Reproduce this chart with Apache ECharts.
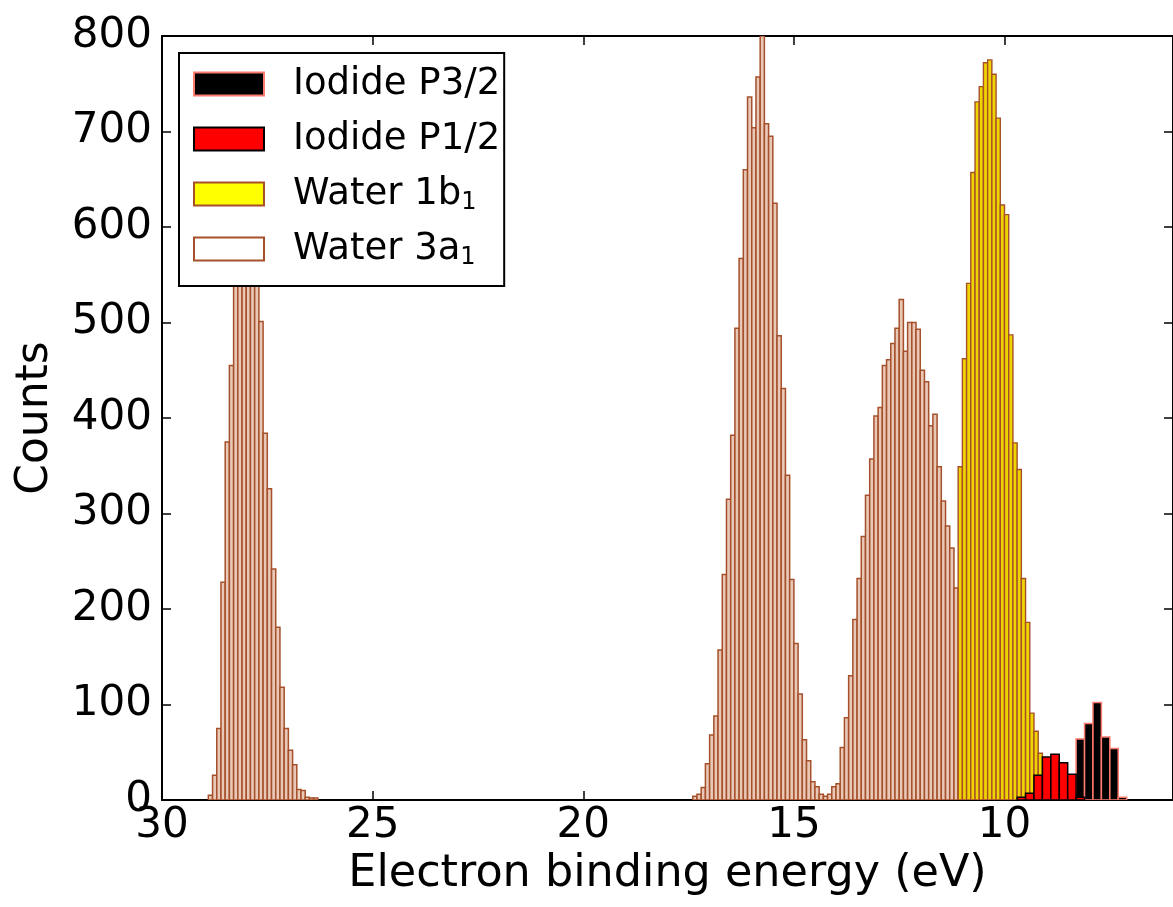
<!DOCTYPE html>
<html>
<head>
<meta charset="utf-8">
<script src="https://cdn.jsdelivr.net/npm/echarts@6/dist/echarts.min.js"></script>
<style>
html,body{margin:0;padding:0;background:#fff;}
#chart{width:1173px;height:907px;}
</style>
</head>
<body>
<div id="chart"></div>
<script>
// ---------------- DATA ----------------
// Histogram bins: each list starts at a high-energy bin edge (eV) and runs to lower energy.
const xTickValues = [10, 15, 20, 25, 30];
const yTickInterval = 100;

// Water 3a1 (brown outline), bin width 0.1 eV
const water3a1_A_start = 28.9;
const water3a1_A = [5, 26, 75, 228, 375, 455, 555, 605, 635, 630, 600, 560, 501, 384, 326, 242, 181, 118, 75, 52, 37, 11, 10, 3, 2, 2];
const water3a1_B_start = 17.4;
const water3a1_B = [4, 6, 13, 38, 68, 88, 157, 236, 315, 382, 494, 567, 660, 736, 704, 757, 800, 708, 695, 625,
  486, 431, 340, 231, 164, 111, 63, 41, 19, 14, 6, 4, 6, 14, 17, 55, 86, 130, 189, 232,
  276, 319, 357, 402, 411, 455, 461, 478, 494, 524, 470, 500, 500, 493, 450, 438, 392, 404, 349, 313,
  287, 264, 222, 132, 46, 15, 5];
const water3a1_width = 0.1;

// Water 1b1 (yellow), bin width 0.1 eV
const water1b1_start = 11.1;
const water1b1 = [349, 462, 541, 657, 731, 747, 772, 775, 760, 714, 623, 613, 487, 374, 346, 232, 186, 91, 72, 49];
const water1b1_width = 0.1;

// Iodide P1/2 (red), bin width 0.2 eV
const iodideP12_start = 9.7;
const iodideP12 = [3, 7, 26, 45, 48, 39, 27, 3];
const iodideP12_width = 0.2;

// Iodide P3/2 (black), bin width 0.2 eV
const iodideP32_start = 8.3;
const iodideP32 = [64, 80, 102, 66, 54, 3];
const iodideP32_width = 0.2;

const seriesNames = ['Iodide P3/2', 'Iodide P1/2', 'Water 1b1', 'Water 3a1'];

// ---------------- BUILD ----------------
function bins(start, counts, width) {
  return counts.map((c, i) => [start - width * (i + 0.5), c, width]);
}
const FONT = 'DejaVu Sans';

function makeRender(fill, stroke, lw) {
  return function (params, api) {
    const c = api.value(0), v = api.value(1), w = api.value(2);
    const pA = api.coord([c + w / 2, v]);
    const pB = api.coord([c - w / 2, 0]);
    const x = Math.min(pA[0], pB[0]);
    const width = Math.abs(pB[0] - pA[0]);
    return {
      type: 'rect',
      shape: { x: x, y: pA[1], width: width, height: pB[1] - pA[1] },
      style: { fill: fill, stroke: stroke, lineWidth: lw }
    };
  };
}

const brown = '#a5502a';
const w3a1Data = bins(water3a1_A_start, water3a1_A, water3a1_width)
  .concat(bins(water3a1_B_start, water3a1_B, water3a1_width));

const chart = echarts.init(document.getElementById('chart'), null, { renderer: 'canvas' });

const axisLineStyle = { color: '#000', width: 2 };
const tickStyle = { color: '#000', width: 1.5 };

const option = {
  animation: false,
  backgroundColor: '#fff',
  grid: { left: 162, right: -5, top: 36, bottom: 107, containLabel: false },
  xAxis: [
    {
      type: 'value', min: 6, max: 30, inverse: true, position: 'bottom',
      axisLine: { show: true, onZero: false, lineStyle: axisLineStyle },
      axisTick: { show: true, inside: true, length: 9, lineStyle: tickStyle, customValues: xTickValues },
      axisLabel: { show: true, customValues: xTickValues, fontFamily: FONT, fontSize: 42, color: '#000', margin: 5 },
      splitLine: { show: false },
      name: 'Electron binding energy (eV)', nameLocation: 'middle', nameGap: 42,
      nameTextStyle: { fontFamily: FONT, fontSize: 44.5, color: '#000' }
    },
    {
      type: 'value', min: 6, max: 30, inverse: true, position: 'top',
      axisLine: { show: true, onZero: false, lineStyle: axisLineStyle },
      axisTick: { show: true, inside: true, length: 9, lineStyle: tickStyle, customValues: xTickValues },
      axisLabel: { show: false },
      splitLine: { show: false }
    }
  ],
  yAxis: [
    {
      type: 'value', min: 0, max: 800, interval: yTickInterval, position: 'left',
      axisLine: { show: true, onZero: false, lineStyle: axisLineStyle },
      axisTick: { show: true, inside: true, length: 9, lineStyle: tickStyle },
      axisLabel: { show: true, fontFamily: FONT, fontSize: 42, color: '#000', margin: 10 },
      splitLine: { show: false },
      name: 'Counts', nameLocation: 'middle', nameGap: 104,
      nameTextStyle: { fontFamily: FONT, fontSize: 44, color: '#000' }
    },
    {
      type: 'value', min: 0, max: 800, interval: yTickInterval, position: 'right',
      axisLine: { show: true, onZero: false, lineStyle: axisLineStyle },
      axisTick: { show: true, inside: true, length: 9, lineStyle: tickStyle },
      axisLabel: { show: false },
      splitLine: { show: false }
    }
  ],
  legend: {
    orient: 'vertical', left: 179, top: 53,
    itemWidth: 70, itemHeight: 23, itemGap: 13,
    padding: [10, 4, 16, 14],
    backgroundColor: '#fff', borderColor: '#000', borderWidth: 2, borderRadius: 0,
    selectedMode: false,
    textStyle: {
      fontFamily: FONT, fontSize: 37, color: '#000', lineHeight: 42,
      rich: {
        g: { width: 24 },
        t: { fontFamily: FONT, fontSize: 37, color: '#000' },
        s: { fontFamily: FONT, fontSize: 24, color: '#000', verticalAlign: 'bottom', padding: [17, 0, 0, 0] }
      }
    },
    formatter: function (name) {
      if (name === 'Water 1b1') return '{g|}{t|Water 1b}{s|1}';
      if (name === 'Water 3a1') return '{g|}{t|Water 3a}{s|1}';
      return '{g|}{t|' + name + '}';
    },
    data: [
      { name: seriesNames[0], icon: 'rect', itemStyle: { color: '#000', borderColor: '#ff7a6e', borderWidth: 2 } },
      { name: seriesNames[1], icon: 'rect', itemStyle: { color: '#ff0000', borderColor: '#000', borderWidth: 2 } },
      { name: seriesNames[2], icon: 'rect', itemStyle: { color: '#ffff00', borderColor: brown, borderWidth: 2 } },
      { name: seriesNames[3], icon: 'rect', itemStyle: { color: '#ffffff', borderColor: brown, borderWidth: 2 } }
    ]
  },
  series: [
    {
      name: seriesNames[3], type: 'custom', clip: true,
      itemStyle: { color: '#ffffff', borderColor: brown, borderWidth: 1 },
      renderItem: makeRender('#e9c8b8', brown, 1.5),
      encode: { x: 0, y: 1 },
      data: w3a1Data
    },
    {
      name: seriesNames[2], type: 'custom', clip: true,
      itemStyle: { color: '#ffff00', borderColor: brown, borderWidth: 1 },
      renderItem: makeRender('#f0d400', brown, 1.4),
      encode: { x: 0, y: 1 },
      data: bins(water1b1_start, water1b1, water1b1_width)
    },
    {
      name: seriesNames[0], type: 'custom', clip: true,
      itemStyle: { color: '#000', borderColor: '#ff7a6e', borderWidth: 1 },
      renderItem: makeRender('#000000', '#ff7a6e', 1.5),
      encode: { x: 0, y: 1 },
      data: bins(iodideP32_start, iodideP32, iodideP32_width)
    },
    {
      name: seriesNames[1], type: 'custom', clip: true,
      itemStyle: { color: '#ff0000', borderColor: '#000', borderWidth: 1 },
      renderItem: makeRender('#ff0000', '#000000', 1.5),
      encode: { x: 0, y: 1 },
      data: bins(iodideP12_start, iodideP12, iodideP12_width)
    }
  ]
};
chart.setOption(option);
</script>
</body>
</html>
